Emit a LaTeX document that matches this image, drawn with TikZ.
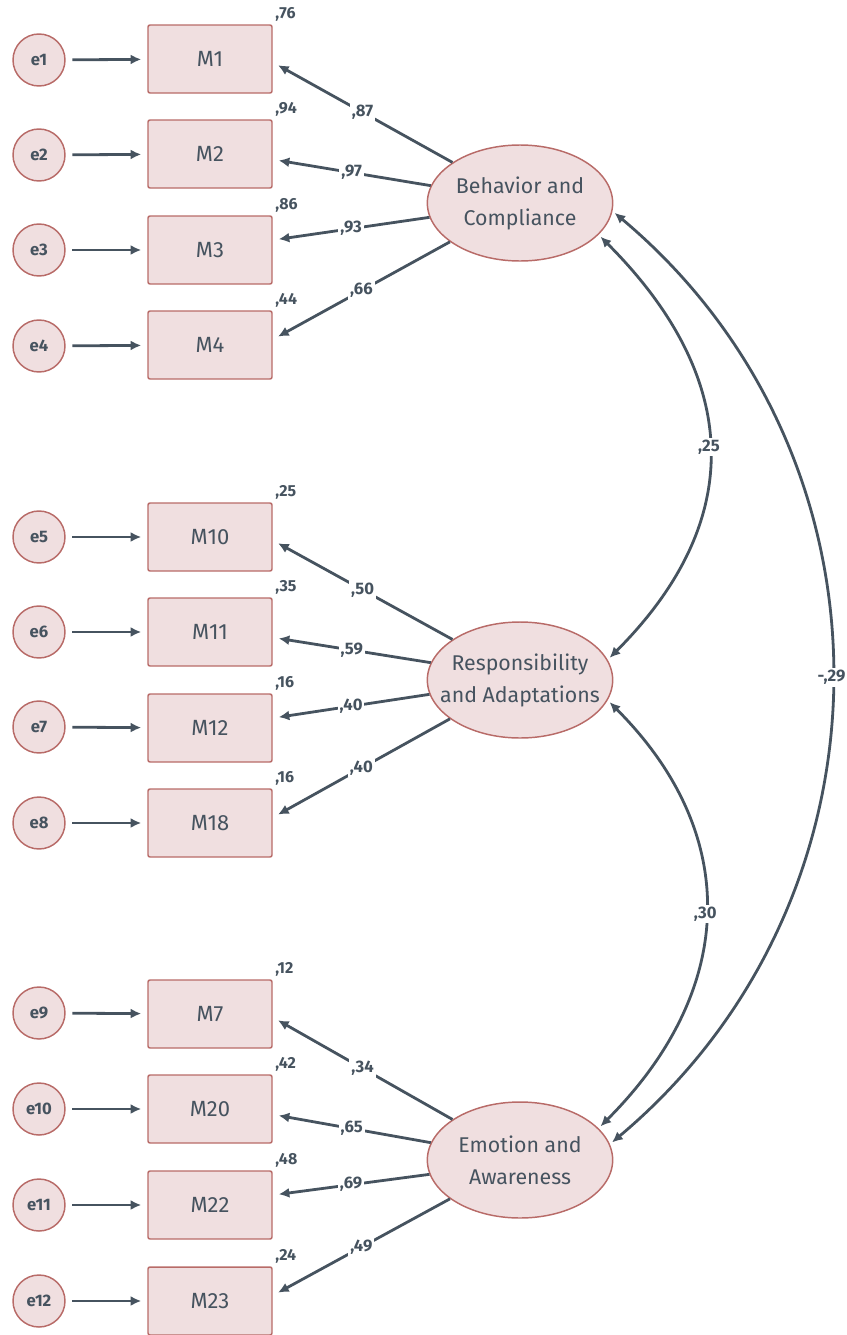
\documentclass[tikz,border=0pt]{standalone}
\usepackage{fontspec}
\setmainfont{Fira Sans}
\usepackage{tikz}
\usetikzlibrary{arrows.meta,shapes.geometric}
\definecolor{ink}{HTML}{46535F}
\definecolor{rim}{HTML}{B86B68}
\definecolor{blush}{HTML}{F0DFE0}

\begin{document}
\begin{tikzpicture}[x=0.75pt,y=-0.75pt,>={Latex[length=8pt,width=7.5pt]},
      line width=2.1pt,color=ink,
      err/.style={circle,draw=rim,fill=blush,line width=1.1pt,minimum size=39pt,
        inner sep=0pt,text=ink,font=\fontsize{12.5}{14}\selectfont\bfseries},
      obs/.style={rectangle,rounded corners=1.5pt,draw=rim,fill=blush,line width=1.1pt,
        minimum width=93pt,minimum height=51pt,text=ink,font=\fontsize{16.5}{19}\selectfont},
      lat/.style={ellipse,draw=rim,fill=blush,line width=1.1pt,minimum width=139pt,
        minimum height=87pt,inner xsep=-14pt,inner ysep=0pt,align=center,text=ink,
        font=\fontsize{16}{24}\selectfont},
      r2/.style={inner sep=1pt,text=ink,font=\fontsize{12}{13}\selectfont\bfseries},
      coef/.style={fill=white,inner sep=1.5pt,text=ink,font=\fontsize{12.5}{14}\selectfont\bfseries},
      load/.style={->,shorten >=4.5pt},
      res/.style={->,shorten <=5pt,shorten >=4.5pt}]
      \useasboundingbox (0,0) rectangle (846,1335);

      % latent factors
      \node[lat] (bc) at (520, 203) {Behavior and\\Compliance};
      \node[lat] (ra) at (520, 680) {Responsibility\\and Adaptations};
      \node[lat] (ea) at (520,1160) {Emotion and\\Awareness};

      % indicators
      \node[obs,label={[r2]north east:,76}] (m1)  at (210,  59) {M1};
      \node[obs,label={[r2]north east:,94}] (m2)  at (210, 154) {M2};
      \node[obs,label={[r2]north east:,86}] (m3)  at (210, 250) {M3};
      \node[obs,label={[r2]north east:,44}] (m4)  at (210, 345) {M4};

      \node[obs,label={[r2]north east:,25}] (m10) at (210, 537) {M10};
      \node[obs,label={[r2]north east:,35}] (m11) at (210, 632) {M11};
      \node[obs,label={[r2]north east:,16}] (m12) at (210, 728) {M12};
      \node[obs,label={[r2]north east:,16}] (m18) at (210, 823) {M18};

      \node[obs,label={[r2]north east:,12}] (m7)  at (210,1014) {M7};
      \node[obs,label={[r2]north east:,42}] (m20) at (210,1109) {M20};
      \node[obs,label={[r2]north east:,48}] (m22) at (210,1205) {M22};
      \node[obs,label={[r2]north east:,24}] (m23) at (210,1301) {M23};

      % error terms
      \node[err] (e1)  at (39,  60) {e1};
      \node[err] (e2)  at (39, 155) {e2};
      \node[err] (e3)  at (39, 250) {e3};
      \node[err] (e4)  at (39, 346) {e4};
      \node[err] (e5)  at (39, 537) {e5};
      \node[err] (e6)  at (39, 632) {e6};
      \node[err] (e7)  at (39, 727) {e7};
      \node[err] (e8)  at (39, 823) {e8};
      \node[err] (e9)  at (39,1013) {e9};
      \node[err] (e10) at (39,1109) {e10};
      \node[err] (e11) at (39,1205) {e11};
      \node[err] (e12) at (39,1301) {e12};

      \draw[res] (e1)  -- (m1);
      \draw[res] (e2)  -- (m2);
      \draw[res] (e3)  -- (m3);
      \draw[res] (e4)  -- (m4);
      \draw[res] (e5)  -- (m10);
      \draw[res] (e6)  -- (m11);
      \draw[res] (e7)  -- (m12);
      \draw[res] (e8)  -- (m18);
      \draw[res] (e9)  -- (m7);
      \draw[res] (e10) -- (m20);
      \draw[res] (e11) -- (m22);
      \draw[res] (e12) -- (m23);

      % loadings
      \draw[load] (bc.149) -- node[coef] {,87} (m1.-3);
      \draw[load] (bc.169) -- node[coef] {,97} (m2.-5);
      \draw[load] (bc.189) -- node[coef] {,93} (m3.9);
      \draw[load] (bc.209) -- node[coef] {,66} (m4.5);

      \draw[load] (ra.149) -- node[coef] {,50} (m10.-3);
      \draw[load] (ra.169) -- node[coef] {,59} (m11.-5);
      \draw[load] (ra.189) -- node[coef] {,40} (m12.9);
      \draw[load] (ra.209) -- node[coef] {,40} (m18.5);

      \draw[load] (ea.149) -- node[coef] {,34} (m7.-3);
      \draw[load] (ea.169) -- node[coef] {,65} (m20.-5);
      \draw[load] (ea.189) -- node[coef] {,69} (m22.9);
      \draw[load] (ea.209) -- node[coef] {,49} (m23.5);

      % covariances
      \draw[<->,shorten <=2pt,shorten >=2pt] (bc.-22) to[out=-45,in=45,looseness=1.2]
        node[coef] {,25} (ra.13);
      \draw[<->,shorten <=2pt,shorten >=2pt] (ra.-13) to[out=-45,in=45,looseness=1.15]
        node[coef] {,30} (ea.22);
      \draw[<->,shorten <=2pt,shorten >=2pt] (bc.-5) to[out=-40,in=40,looseness=1.05]
        node[coef] {-,29} (ea.10);
\end{tikzpicture}
\end{document}
